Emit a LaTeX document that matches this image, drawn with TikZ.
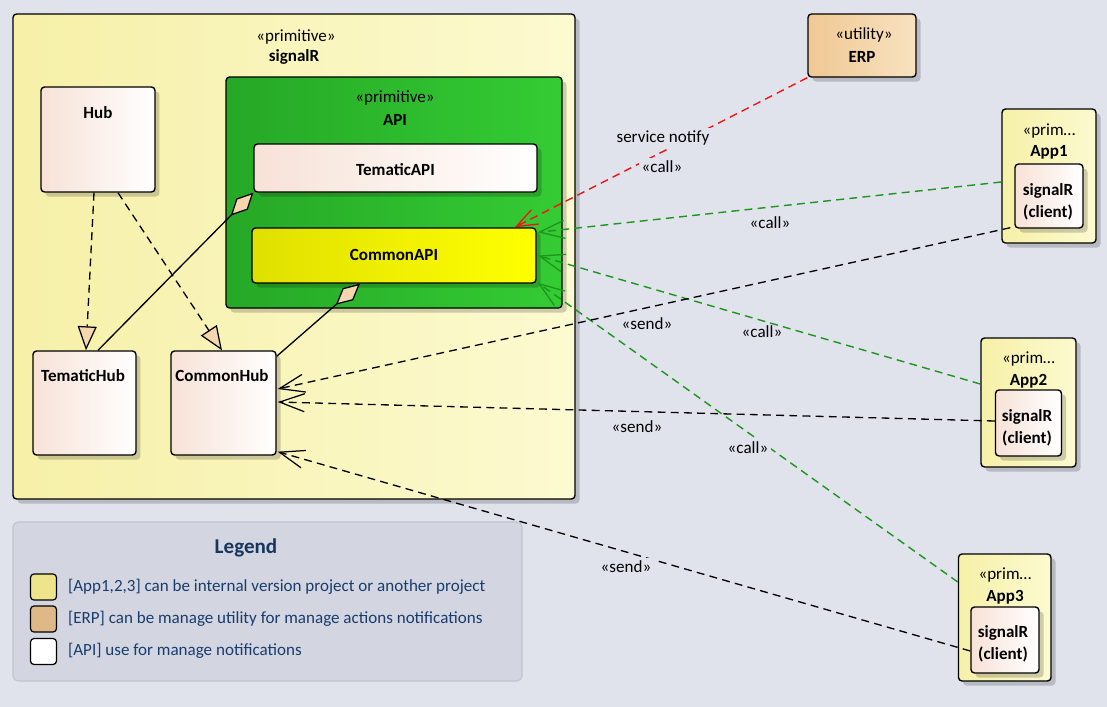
\documentclass[tikz,border=0pt]{standalone}
\usepackage{fontspec}
\setmainfont{Carlito}
\usetikzlibrary{arrows.meta,shadows,calc}

\definecolor{bg}{RGB}{224,227,236}
\definecolor{pkgL}{RGB}{246,240,168}
\definecolor{pkgR}{RGB}{252,250,208}
\definecolor{apiL}{RGB}{38,168,38}
\definecolor{apiR}{RGB}{52,204,52}
\definecolor{clsL}{RGB}{247,226,215}
\definecolor{capiL}{RGB}{224,224,0}
\definecolor{capiR}{RGB}{255,255,0}
\definecolor{erpL}{RGB}{240,200,148}
\definecolor{erpR}{RGB}{248,226,192}
\definecolor{tanfill}{RGB}{246,214,172}
\definecolor{callgreen}{RGB}{28,150,28}
\definecolor{notifyred}{RGB}{240,20,20}
\definecolor{legfill}{RGB}{211,214,224}
\definecolor{legdraw}{RGB}{192,196,206}
\definecolor{legtext}{RGB}{25,60,110}
\definecolor{legtitle}{RGB}{23,54,93}
\definecolor{swyellow}{RGB}{238,228,140}
\definecolor{swtan}{RGB}{222,184,135}

\begin{document}
\begin{tikzpicture}[x=0.02cm, y=-0.02cm, line join=round,
  every node/.style={font=\fontsize{9.7}{11.5}\selectfont, inner sep=1pt},
  box/.style 2 args={draw, line width=0.8pt, rounded corners=0.07cm,
    minimum width=#1*0.02cm, minimum height=#2*0.02cm, inner sep=0pt,
    drop shadow={shadow xshift=0.09cm, shadow yshift=-0.09cm, opacity=0.18, fill=black}},
  pkg/.style={left color=pkgL, right color=pkgR},
  api/.style={left color=apiL, right color=apiR},
  cls/.style={left color=clsL, right color=white},
  capi/.style={left color=capiL, right color=capiR},
  util/.style={left color=erpL, right color=erpR},
  bold/.style={font=\fontsize{9.7}{11.5}\selectfont\bfseries},
  client/.style={font=\fontsize{9.7}{12.5}\selectfont\bfseries, align=center},
  elbl/.style={fill=bg, inner sep=1.5pt},
  realize/.style={dash pattern=on 4.5pt off 3pt, line width=0.75pt,
    -{Triangle[fill=tanfill, length=0.48cm, width=0.38cm, line width=0.7pt]}},
  aggr/.style={line width=0.75pt,
    {Diamond[fill=tanfill, length=0.64cm, width=0.32cm, line width=0.7pt]}-},
  callg/.style={draw=callgreen, dash pattern=on 4.5pt off 3pt, line width=0.8pt,
    -{Straight Barb[length=0.5cm, width=0.36cm, line width=0.75pt]}},
  sendb/.style={dash pattern=on 4.5pt off 3pt, line width=0.75pt,
    -{Straight Barb[length=0.5cm, width=0.36cm, line width=0.7pt]}},
  notify/.style={draw=notifyred, dash pattern=on 4.5pt off 3pt, line width=0.8pt,
    -{Straight Barb[length=0.42cm, width=0.32cm, line width=0.75pt]}}]

\useasboundingbox[fill=bg] (0,0) rectangle (1107,707);

% signalR package
\node[box={562}{485}, pkg] (sigr) at (294,256.5) {};
\node (sigrS) at (296,37) {«primitive»};
\node[bold] (sigrT) at (294,57) {signalR};

\node[box={114}{105}, cls] (hub) at (98,139.5) {};
\node[bold] (hubT) at (98,113) {Hub};

% API
\node[box={336}{231}, api] (api) at (394,192.5) {};
\node (apiS) at (395,98) {«primitive»};
\node[bold] (apiT) at (395,120) {API};
\node[box={283}{48}, cls] (tapi) at (395.5,168) {};
\node[bold] (tapiT) at (395.5,170) {TematicAPI};
\node[box={284}{55}, capi] (capi) at (394,255.5) {};
\node[bold] (capiT) at (394,255) {CommonAPI};

\node[box={103}{104}, cls] (thub) at (84.5,403) {};
\node[bold] (thubT) at (83,376) {TematicHub};
\node[box={105}{104}, cls] (chub) at (223.5,403) {};
\node[bold] (chubT) at (222,376) {CommonHub};

% ERP
\node[box={108}{63}, util] (erp) at (862,45.5) {};
\node (erpS) at (864,35) {«utility»};
\node[bold] (erpT) at (862,57) {ERP};

% client apps
\node[box={94}{134}, pkg] (app1) at (1049,176) {};
\node (app1S) at (1049,131) {«prim…};
\node[bold] (app1T) at (1049,152) {App1};
\node[box={68}{64}, cls] (app1in) at (1049,196) {};
\node[client] (app1inT) at (1048,202) {signalR\\(client)};

\node[box={95}{129}, pkg] (app2) at (1028.5,402.5) {};
\node (app2S) at (1028.5,359) {«prim…};
\node[bold] (app2T) at (1028.5,381) {App2};
\node[box={66}{66}, cls] (app2in) at (1028.5,423) {};
\node[client] (app2inT) at (1027,428) {signalR\\(client)};

\node[box={92.5}{127}, pkg] (app3) at (1004.75,617.5) {};
\node (app3S) at (1005,575) {«prim…};
\node[bold] (app3T) at (1005,597) {App3};
\node[box={68}{66}, cls] (app3in) at (1005,640) {};
\node[client] (app3inT) at (1003,644) {signalR\\(client)};

% legend
\node[draw=legdraw, fill=legfill, rounded corners=0.1cm, line width=0.6pt,
  minimum width=509*0.02cm, minimum height=159*0.02cm] (legend) at (267.5,601.5) {};
\node[font=\fontsize{12}{14}\selectfont\bfseries, text=legtitle] (legT) at (246,548) {Legend};
\node[draw, fill=swyellow, rounded corners=0.07cm, line width=0.7pt, minimum size=0.52cm] (sw1) at (43.5,587) {};
\node[draw, fill=swtan, rounded corners=0.07cm, line width=0.7pt, minimum size=0.52cm] (sw2) at (43.5,619) {};
\node[draw, fill=white, rounded corners=0.07cm, line width=0.7pt, minimum size=0.52cm] (sw3) at (43.5,651.5) {};
\node[anchor=west, text=legtext] (leg1) at (66,587) {[App1,2,3] can be internal version project or another project};
\node[anchor=west, text=legtext] (leg2) at (66,619) {[ERP] can be manage utility for manage actions notifications};
\node[anchor=west, text=legtext] (leg3) at (66,651) {[API] use for manage notifications};

% hub realizations and aggregations
\draw[realize] ($(hub.south)+(-4,0)$) -- ($(thub.north)+(1.5,0)$);
\draw[realize] ($(hub.south)+(20,0)$) -- ($(chub.north)+(-1.5,0)$);
\draw[aggr] (tapi.south west) -- ($(thub.north)+(13.5,0)$);
\draw[aggr] ($(capi.south)+(-34,0)$) -- ($(chub.north east)+(0,6)$);

% calls and sends
\draw[notify] (erp.south west) -- ($(capi.north east)+(-22,0)$);
\draw[callg] ($(app1.west)+(0,6)$) -- ($(capi.north east)+(1,5)$);
\draw[callg] ($(app2.west)+(0,-18.5)$) -- ($(capi.east)+(1,0)$);
\draw[callg] ($(app3.west)+(0,-35.5)$) -- ($(capi.south east)+(1,-1)$);
\draw[sendb] ($(app1in.south west)+(-4,-1)$) -- ($(chub.east)+(1,-14)$);
\draw[sendb] ($(app2in.west)+(0,-2)$) -- ($(chub.east)+(1,-1)$);
\draw[sendb] ($(app3in.west)+(0,11)$) -- ($(chub.south east)+(1,-4)$);

\node[elbl] (lNotify) at (663,138) {service notify};
\node[elbl] (lErpCall) at (662,167) {«call»};
\node (lCall1) at (770,223) {«call»};
\node (lSend1) at (647,324) {«send»};
\node (lCall2) at (762,332) {«call»};
\node (lSend2) at (637,427) {«send»};
\node[elbl] (lCall3) at (748,448) {«call»};
\node[elbl] (lSend3) at (626,567) {«send»};

\end{tikzpicture}
\end{document}
